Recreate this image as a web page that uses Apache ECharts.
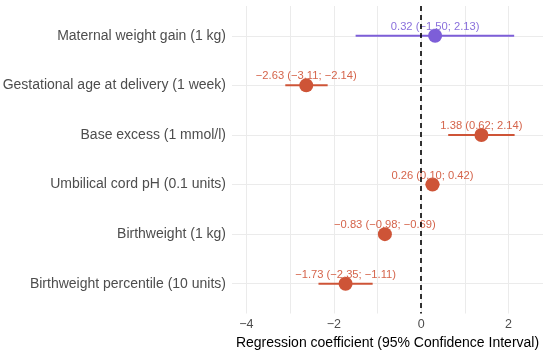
<!DOCTYPE html>
<html><head><meta charset="utf-8">
<script src="https://cdn.jsdelivr.net/npm/echarts@6/dist/echarts.min.js"></script>
<style>html,body{margin:0;padding:0;background:#fff}#c{width:550px;height:352px}</style>
</head><body><div id="c"></div>
<script>
var categories = ["Maternal weight gain (1 kg)","Gestational age at delivery (1 week)","Base excess (1 mmol/l)","Umbilical cord pH (0.1 units)","Birthweight (1 kg)","Birthweight percentile (10 units)"];
var estimates = [0.32, -2.63, 1.38, 0.26, -0.83, -1.73];
var lower = [-1.50, -3.11, 0.62, 0.10, -0.98, -2.35];
var upper = [2.13, -2.14, 2.14, 0.42, -0.69, -1.11];
var groups = ["purple","red","red","red","red","red"];
var xTicks = [-4, -2, 0, 2];
var xGrid = [-4, -3, -2, -1, 0, 1, 2];
var colors = {purple: "#7D5ED8", red: "#CE5437"};
var labelColors = {purple: "#8A70DC", red: "#D5654C"};

function fmt(v){ return (v<0?"\u2212":"") + Math.abs(v).toFixed(2); }
var rows = categories.map(function(c,i){ return [estimates[i], i+1, lower[i], upper[i], i]; });
var chart = echarts.init(document.getElementById('c'));
chart.setOption({
  animation:false,
  grid:{left:232,right:7,top:6,bottom:38.5,containLabel:false,outerBoundsMode:'none'},
  xAxis:{type:'value',min:-4.33,max:2.79,
    axisLine:{show:false},
    axisTick:{show:false,customValues:xGrid},
    axisLabel:{customValues:xTicks,color:'#4d4d4d',fontSize:12.5,fontFamily:'Liberation Sans',margin:5,
      formatter:function(v){return (v<0?"\u2212":"")+Math.abs(v);}},
    splitLine:{show:true,lineStyle:{color:'#ebebeb',width:1}},
    name:'Regression coefficient (95% Confidence Interval)',nameLocation:'middle',nameGap:20.5,
    nameTextStyle:{color:'#000',fontSize:14,fontFamily:'Liberation Sans'}},
  yAxis:{type:'value',inverse:true,min:0.4,max:6.6,
    axisLine:{show:false},
    axisTick:{show:false,customValues:[1,2,3,4,5,6]},
    axisLabel:{customValues:[1,2,3,4,5,6],color:'#4d4d4d',fontSize:14,fontFamily:'Liberation Sans',margin:6,
      formatter:function(v){return categories[Math.round(v)-1];}},
    splitLine:{show:true,lineStyle:{color:'#ebebeb',width:1}}},
  series:[
    {type:'custom',data:rows,encode:{x:[0,2,3],y:1},z:2,
      renderItem:function(params,api){
        var i=api.value(4);
        var a=api.coord([api.value(2),api.value(1)]);
        var b=api.coord([api.value(3),api.value(1)]);
        return {type:'line',shape:{x1:a[0],y1:a[1],x2:b[0],y2:b[1]},
          style:{stroke:colors[groups[i]],lineWidth:2}};
      }},
    {type:'scatter',data:rows.map(function(r,i){return {value:[r[0],r[1]],itemStyle:{color:colors[groups[i]],opacity:1},
        label:{color:labelColors[groups[i]]}};}),
      symbolSize:14,z:3,
      label:{show:true,position:'inside',offset:[0,-9],fontSize:11.2,fontFamily:'Liberation Sans',
        formatter:function(p){var i=p.dataIndex;return fmt(estimates[i])+" ("+fmt(lower[i])+"; "+fmt(upper[i])+")";}}},
    {type:'line',data:[],z:4,markLine:{silent:true,symbol:'none',label:{show:false},
      lineStyle:{color:'#000',type:[5,4],width:1.6},data:[{xAxis:0}]}}
  ]
});
</script></body></html>
